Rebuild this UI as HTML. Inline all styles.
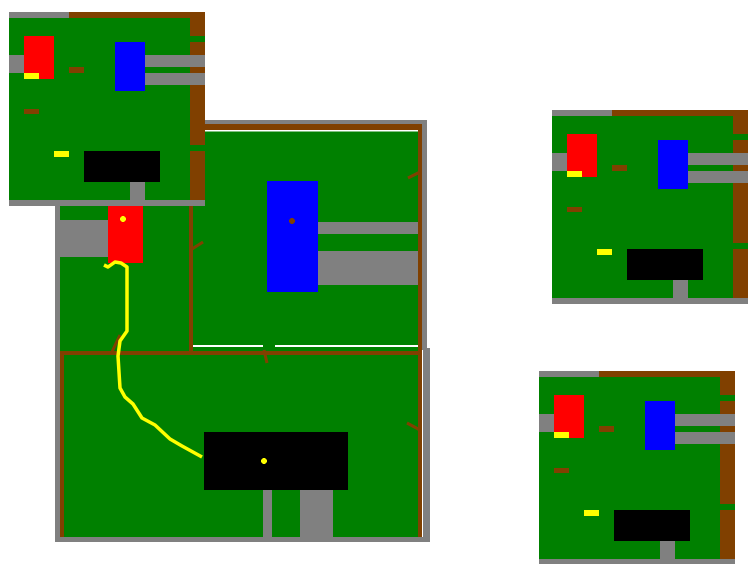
<!DOCTYPE html>
<html><head><meta charset="utf-8"><style>html,body{margin:0;padding:0;background:#fff;width:756px;height:564px;overflow:hidden}</style></head>
<body>
<svg width="756" height="564" viewBox="0 0 756 564" xmlns="http://www.w3.org/2000/svg" shape-rendering="crispEdges">
<defs>
<g id="tile">
  <rect x="0" y="0" width="196" height="194" fill="#008000"/>
  <rect x="0" y="0" width="60" height="6" fill="#808080"/>
  <rect x="60" y="0" width="136" height="6" fill="#804000"/>
  <rect x="181" y="6" width="15" height="18" fill="#804000"/>
  <rect x="181" y="30" width="15" height="103" fill="#804000"/>
  <rect x="181" y="139" width="15" height="49" fill="#804000"/>
  <rect x="0" y="188" width="196" height="6" fill="#808080"/>
  <rect x="0" y="43" width="15" height="18" fill="#808080"/>
  <rect x="15" y="24" width="30" height="43" fill="#ff0000"/>
  <rect x="15" y="61" width="15" height="6" fill="#ffff00"/>
  <rect x="60" y="55" width="15" height="6" fill="#804000"/>
  <rect x="106" y="30" width="30" height="49" fill="#0000ff"/>
  <rect x="136" y="43" width="60" height="12" fill="#808080"/>
  <rect x="136" y="61" width="60" height="12" fill="#808080"/>
  <rect x="15" y="97" width="15" height="5" fill="#804000"/>
  <rect x="45" y="139" width="15" height="6" fill="#ffff00"/>
  <rect x="75" y="139" width="76" height="31" fill="#000"/>
  <rect x="121" y="170" width="15" height="18" fill="#808080"/>
</g>
</defs>
<!-- main map fills -->
<rect x="60" y="204" width="129" height="147" fill="#008000"/>
<rect x="193" y="131" width="225" height="220" fill="#008000"/>
<rect x="64" y="355" width="354" height="182" fill="#008000"/>
<!-- walls -->
<rect x="55" y="204" width="5" height="338" fill="#808080"/>
<rect x="55" y="537" width="375" height="5" fill="#808080"/>
<rect x="422" y="120" width="5" height="230" fill="#808080"/>
<rect x="423" y="348" width="7" height="194" fill="#808080"/>
<rect x="190" y="120" width="237" height="4" fill="#808080"/>
<rect x="190" y="124" width="232" height="6" fill="#804000"/>
<rect x="193" y="130" width="225" height="1.5" fill="#fff"/>
<rect x="418" y="124" width="4" height="413" fill="#804000"/>
<rect x="60" y="351" width="4" height="186" fill="#804000"/>
<rect x="60" y="351" width="362" height="4" fill="#804000"/>
<rect x="189" y="204" width="4" height="147" fill="#804000"/>
<rect x="193" y="345" width="70" height="2" fill="#fff"/>
<rect x="275" y="345" width="143" height="2" fill="#fff"/>
<!-- objects -->
<rect x="55" y="220" width="53" height="37" fill="#808080"/>
<rect x="108" y="206" width="35" height="57" fill="#ff0000"/>
<circle cx="123" cy="219" r="3" fill="#ffff00"/>
<rect x="267" y="181" width="51" height="111" fill="#0000ff"/>
<circle cx="292" cy="221" r="3" fill="#804000"/>
<rect x="318" y="222" width="100" height="12" fill="#808080"/>
<rect x="318" y="251" width="100" height="34" fill="#808080"/>
<rect x="204" y="432" width="144" height="58" fill="#000"/>
<circle cx="264" cy="461" r="3" fill="#ffff00"/>
<rect x="263" y="490" width="9" height="47" fill="#808080"/>
<rect x="300" y="490" width="33" height="47" fill="#808080"/>
<g stroke="#804000" stroke-width="3" shape-rendering="auto">
  <line x1="192" y1="249" x2="203" y2="242"/>
  <line x1="408" y1="178" x2="420" y2="172"/>
  <line x1="264" y1="350" x2="267" y2="363"/>
  <line x1="111" y1="354" x2="120" y2="335"/>
  <line x1="407" y1="423" x2="420" y2="430"/>
</g>
<polyline shape-rendering="auto" fill="none" stroke="#ffff00" stroke-width="3.5" stroke-linejoin="round" points="104,265 108,267 115,262 121,263 127,267 127,331 120,341 118,356 120,388 125,397 133,404 142,418 155,425 170,439 182,446 202,457"/>
<use href="#tile" x="9" y="12"/>
<use href="#tile" x="552" y="110"/>
<use href="#tile" x="539" y="371"/>
</svg>
</body></html>
